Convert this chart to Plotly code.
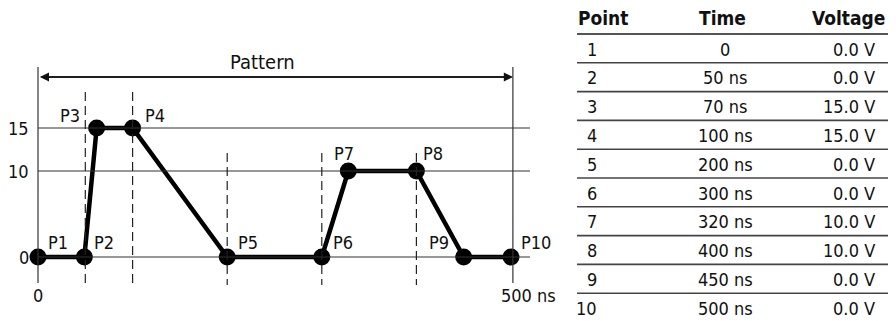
import plotly.graph_objects as go

# ---- data ----
point_names = ["P1", "P2", "P3", "P4", "P5", "P6", "P7", "P8", "P9", "P10"]
# positions as drawn in the sketch (ns, V)
drawn_time_ns = [0, 49, 62, 100, 200, 300, 328, 400, 450, 500]
drawn_voltage = [0, 0, 15, 15, 0, 0, 10, 10, 0, 0]

level_ticks = [0, 10, 15]
level_tick_labels = ["0", "10", "15"]
marker_times_ns = [50, 100, 200, 300, 400]
pattern_span_ns = [0, 502]
time_tick_labels = ["0", "500 ns"]

table_header = ["Point", "Time", "Voltage"]
table_point = ["1", "2", "3", "4", "5", "6", "7", "8", "9", "10"]
table_time = ["0", "50 ns", "70 ns", "100 ns", "200 ns", "300 ns", "320 ns", "400 ns", "450 ns", "500 ns"]
table_voltage = ["0.0 V", "0.0 V", "15.0 V", "15.0 V", "0.0 V", "0.0 V", "10.0 V", "10.0 V", "0.0 V", "0.0 V"]

# page has an 8px body margin, so the figure is shrunk and every position is shifted by it
OFF = 8
W, H = 896 - OFF, 321 - OFF
FONT = "DejaVu Sans Condensed, Liberation Sans, sans-serif"
INK = "#111111"

# reference-pixel -> data helpers (t=0 at x=38px, V=0 at y=257px)
X0, SX = 38 - OFF, 0.946
Y0, SY = 257 - OFF, 8.6


def tx(px):
    return (px - OFF - X0) / SX


def vy(py):
    return (Y0 - (py - OFF)) / SY


def pxp(px):
    return (px - OFF) / W


def pyp(py):
    return 1 - (py - OFF) / H


fig = go.Figure()

shapes = []
# horizontal level lines
for lv in level_ticks:
    shapes.append(dict(type="line", xref="x", yref="y", x0=0, x1=tx(530), y0=lv, y1=lv,
                       line=dict(color="#333333", width=1.2)))
# left and right boundaries
for t in pattern_span_ns:
    shapes.append(dict(type="line", xref="x", yref="y", x0=t, x1=t, y0=vy(67), y1=vy(283),
                       line=dict(color="#333333", width=1.2)))
# dashed markers
for i, t in enumerate(marker_times_ns):
    top = vy(92) if i < 2 else vy(153)
    shapes.append(dict(type="line", xref="x", yref="y", x0=t, x1=t, y0=top, y1=vy(285),
                       line=dict(color="#222222", width=1.2, dash="9px,5px")))

# table rules
shapes.append(dict(type="line", xref="paper", yref="paper", x0=pxp(577), x1=1, y0=pyp(34), y1=pyp(34),
                   line=dict(color="#555555", width=2)))
for k in range(1, len(table_point)):
    py = 34 + k * 28.8
    shapes.append(dict(type="line", xref="paper", yref="paper", x0=pxp(577), x1=1, y0=pyp(py), y1=pyp(py),
                       line=dict(color="#444444", width=1.6)))

fig.add_trace(go.Scatter(
    x=drawn_time_ns, y=drawn_voltage, mode="lines+markers",
    line=dict(color="#000000", width=4.5),
    marker=dict(color="#000000", size=17),
    hoverinfo="skip", showlegend=False,
))


def txt(**kw):
    kw.setdefault("showarrow", False)
    kw.setdefault("yanchor", "middle")
    kw.setdefault("borderpad", 0)
    kw.setdefault("font", dict(family=FONT, size=18, color=INK))
    return dict(**kw)


ann = []
# point labels: (xanchor, xshift, yshift)
label_pos = [("left", 9, 15), ("left", 9, 15), ("right", -16, 13), ("left", 11, 13), ("left", 10, 15),
             ("left", 10, 15), ("left", -15, 18), ("left", 6, 18), ("right", -14, 15), ("left", 9, 15)]
for name, t, v, (anc, xs, ys) in zip(point_names, drawn_time_ns, drawn_voltage, label_pos):
    ann.append(txt(x=t, y=v, xref="x", yref="y", text=name, xanchor=anc, xshift=xs, yshift=ys))

# y level labels
for lv, lab in zip(level_ticks, level_tick_labels):
    ann.append(txt(x=tx(30), y=lv, xref="x", yref="y", text=lab, xanchor="right"))

# time labels
ann.append(txt(x=pattern_span_ns[0], y=vy(295), xref="x", yref="y", text=time_tick_labels[0], xanchor="center"))
ann.append(txt(x=tx(500), y=vy(295), xref="x", yref="y", text=time_tick_labels[1], xanchor="left"))

# pattern arrow (double headed)
ya = vy(77)
for a, b in [(pattern_span_ns[0] + 2, pattern_span_ns[1]), (pattern_span_ns[1], pattern_span_ns[0] + 2)]:
    ann.append(dict(x=a, y=ya, ax=b, ay=ya, xref="x", yref="y", axref="x", ayref="y", text="",
                    showarrow=True, arrowhead=2, arrowsize=1.4, arrowwidth=1.3, arrowcolor=INK))
ann.append(txt(x=tx(262), y=vy(62), xref="x", yref="y", text="Pattern", xanchor="center",
               font=dict(family=FONT, size=20, color=INK)))

# table text
hfont = dict(family=FONT, size=19, color=INK)
hy = pyp(18)
ann.append(txt(x=pxp(577), y=hy, xref="paper", yref="paper", text="<b>%s</b>" % table_header[0],
               xanchor="left", font=hfont))
ann.append(txt(x=pxp(722), y=hy, xref="paper", yref="paper", text="<b>%s</b>" % table_header[1],
               xanchor="center", font=hfont))
ann.append(txt(x=pxp(886), y=hy, xref="paper", yref="paper", text="<b>%s</b>" % table_header[2],
               xanchor="right", font=hfont))
for k, (p, t, v) in enumerate(zip(table_point, table_time, table_voltage)):
    yy = pyp(49 + k * 28.8)
    ann.append(txt(x=pxp(598), y=yy, xref="paper", yref="paper", text=p, xanchor="right"))
    ann.append(txt(x=pxp(725), y=yy, xref="paper", yref="paper", text=t, xanchor="center"))
    ann.append(txt(x=pxp(876), y=yy, xref="paper", yref="paper", text=v, xanchor="right"))

fig.update_layout(
    width=W, height=H,
    margin=dict(l=0, r=0, t=0, b=0),
    paper_bgcolor="white", plot_bgcolor="white",
    xaxis=dict(range=[tx(OFF), tx(OFF + W)], visible=False, fixedrange=True),
    yaxis=dict(range=[vy(OFF + H), vy(OFF)], visible=False, fixedrange=True),
    shapes=shapes, annotations=ann,
    showlegend=False,
)

fig.write_html("out.html")
